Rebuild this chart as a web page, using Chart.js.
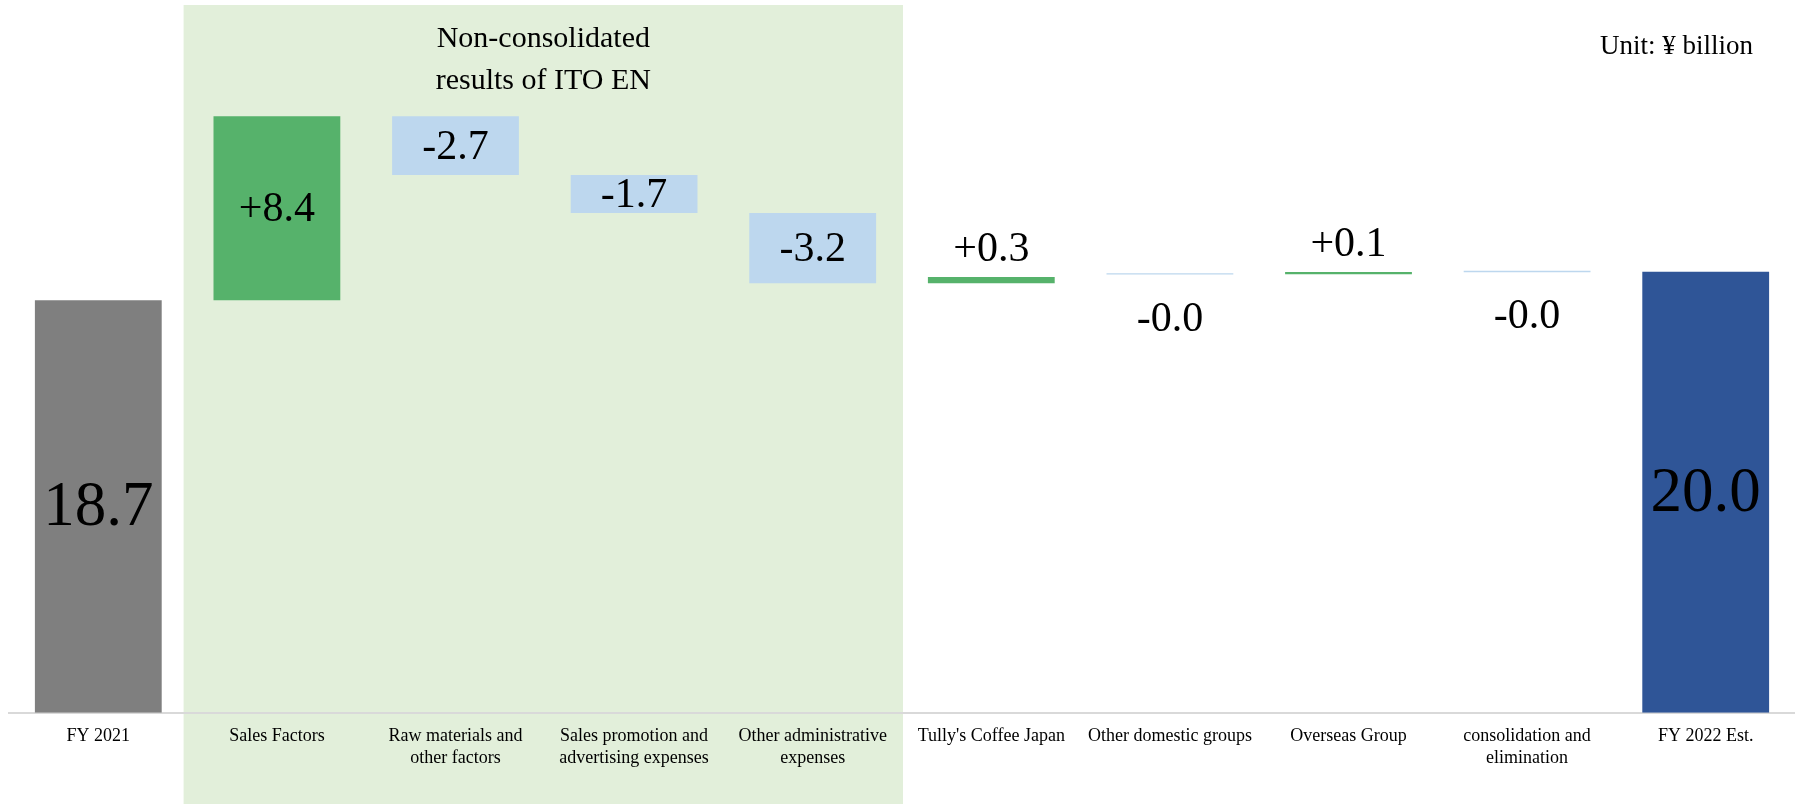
<html>

<head>
  <title>Operating income bridge FY2021 to FY2022</title>
  <style>
    body {
      margin: 0;
      background: #fff;
    }
    .canvas {
      width: 1795px;
      height: 805px;
      position: relative;
    }
  </style>
  <script src="https://cdn.jsdelivr.net/npm/chart.js@4.4.1/dist/chart.umd.min.js"></script>
</head>

<body>
  <div class="canvas">
    <canvas id="chart"></canvas>
  </div>

  <script>
    const categories = [
      'FY 2021',
      'Sales Factors',
      ['Raw materials and', 'other factors'],
      ['Sales promotion and', 'advertising expenses'],
      ['Other administrative', 'expenses'],
      "Tully's Coffee Japan",
      'Other domestic groups',
      'Overseas Group',
      ['consolidation and', 'elimination'],
      'FY 2022 Est.',
    ];
    // change shown on each bar (first and last are totals)
    const changes = [18.7, 8.4, -2.7, -1.7, -3.2, 0.3, -0.04, 0.1, -0.04, 20.0];
    // where each floating bar starts and ends
    const barStart = [0, 18.7, 27.05, 24.38, 22.66, 19.48, 19.93, 19.88, 20.04, 0];
    const barEnd = [18.7, 27.05, 24.38, 22.66, 19.48, 19.76, 19.87, 19.98, 19.97, 20.0];
    const totalIdx = [0, 9];

    const serif = "'Times New Roman', 'Liberation Serif', serif";
    const colors = {
      start: '#7f7f7f',
      end: '#2f5597',
      up: '#56b26b',
      down: '#bdd7ee',
      box: '#e2efda',
    };

    const barColors = changes.map((v, i) => {
      if (i === 0) return colors.start;
      if (i === categories.length - 1) return colors.end;
      return v >= 0 ? colors.up : colors.down;
    });

    const labelText = (i) => {
      const v = changes[i];
      if (totalIdx.includes(i)) return v.toFixed(1);
      return (v > 0 ? '+' : '') + v.toFixed(1);
    };

    const greenBox = {
      id: 'greenBox',
      beforeDraw(chart) {
        const { ctx, scales: { x }, chartArea } = chart;
        const step = x.getPixelForValue(1) - x.getPixelForValue(0);
        const left = x.getPixelForValue(1) - step / 2 - 4;
        const right = x.getPixelForValue(4) + step / 2 + 1;
        ctx.save();
        ctx.fillStyle = colors.box;
        ctx.fillRect(left, chartArea.top - 2, right - left, chart.height - chartArea.top + 1);
        ctx.fillStyle = '#000';
        ctx.font = '30px ' + serif;
        ctx.textAlign = 'center';
        ctx.textBaseline = 'middle';
        ctx.fillText('Non-consolidated', (left + right) / 2, 39);
        ctx.fillText('results of ITO EN', (left + right) / 2, 81);
        ctx.font = '27px ' + serif;
        ctx.textAlign = 'right';
        ctx.fillText('Unit: ¥ billion', 1753, 47);
        ctx.restore();
      },
    };

    const barLabels = {
      id: 'barLabels',
      afterDatasetsDraw(chart) {
        const { ctx } = chart;
        const meta = chart.getDatasetMeta(0);
        ctx.save();
        ctx.fillStyle = '#000';
        ctx.textAlign = 'center';
        meta.data.forEach((bar, i) => {
          const top = Math.min(bar.y, bar.base);
          const bottom = Math.max(bar.y, bar.base);
          const big = totalIdx.includes(i);
          ctx.font = (big ? 63 : 42) + 'px ' + serif;
          if (bottom - top > 25) {
            ctx.textBaseline = 'middle';
            ctx.fillText(labelText(i), bar.x, (top + bottom) / 2 + 2);
          } else if (changes[i] >= 0) {
            ctx.textBaseline = 'alphabetic';
            ctx.fillText(labelText(i), bar.x, top - 16);
          } else {
            ctx.textBaseline = 'alphabetic';
            ctx.fillText(labelText(i), bar.x, bottom + 56);
          }
        });
        ctx.restore();
      },
    };

    window.chartObj = new Chart(document.querySelector('canvas#chart'), {
      type: 'bar',
      data: {
        labels: categories,
        datasets: [{
          data: barStart.map((s, i) => [s, barEnd[i]]),
          backgroundColor: barColors,
          borderWidth: 0,
          barPercentage: 0.71,
          categoryPercentage: 1,
        }],
      },
      options: {
        responsive: true,
        maintainAspectRatio: false,
        animation: false,
        layout: {
          padding: { left: 9, right: 0, top: 7, bottom: 23 },
        },
        plugins: {
          legend: { display: false },
          tooltip: { enabled: false },
        },
        scales: {
          x: {
            grid: { display: false, drawTicks: false },
            border: { display: true, color: '#d9d9d9', width: 2 },
            ticks: {
              color: '#000',
              padding: 13,
              maxRotation: 0,
              autoSkip: false,
              font: { family: serif, size: 18, lineHeight: 1.2 },
            },
          },
          y: {
            display: false,
            min: 0,
            max: 32,
          },
        },
      },
      plugins: [greenBox, barLabels],
    });
  </script>
</body>

</html>
